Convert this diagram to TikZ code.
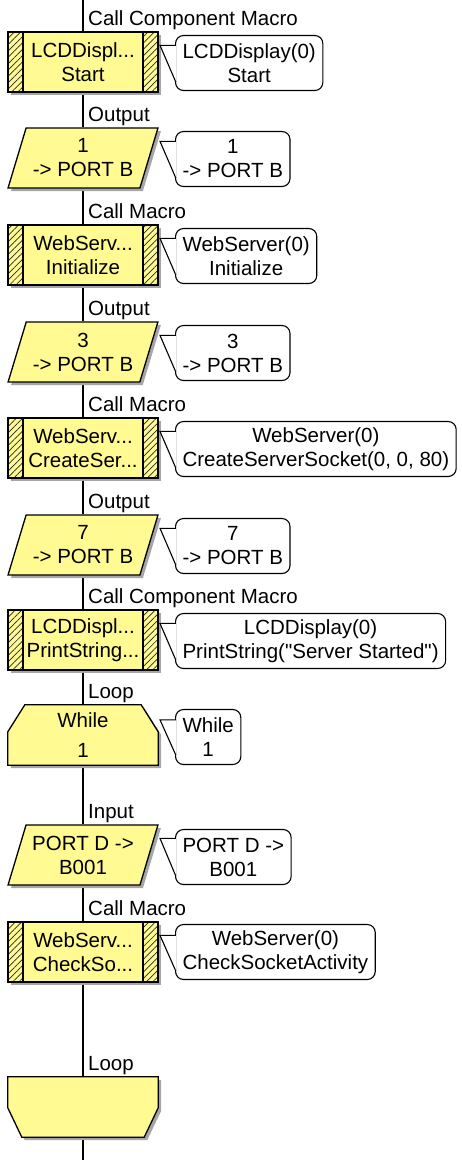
\documentclass[tikz,border=0pt]{standalone}
\usepackage{fontspec}
\setmainfont{Liberation Sans}[Ligatures=TeXOff]
\usetikzlibrary{shapes.geometric,shadows,patterns.meta,calc,backgrounds}

\definecolor{fcyellow}{RGB}{255,250,145}

\begin{document}
\begin{tikzpicture}[x=1pt, y=-1pt,
  font=\fontsize{20.5}{24}\selectfont,
  shadowed/.style={drop shadow={shadow xshift=3pt, shadow yshift=-3pt, fill=black!35, opacity=1}},
  hatch/.style={pattern={Lines[angle=45, distance=4.5pt, line width=0.7pt]}, pattern color=black!85},
  mac/.style={draw, line width=1.3pt, fill=fcyellow, minimum width=150pt, minimum height=60pt,
    inner sep=0pt, align=center, shadowed,
    path picture={
      \fill[hatch] (path picture bounding box.north west) rectangle ([xshift=15pt]path picture bounding box.south west);
      \fill[hatch] ([xshift=-15pt]path picture bounding box.north east) rectangle (path picture bounding box.south east);
      \draw[line width=1.3pt] ([xshift=15pt]path picture bounding box.north west) -- ([xshift=15pt]path picture bounding box.south west);
      \draw[line width=1.3pt] ([xshift=-15pt]path picture bounding box.north east) -- ([xshift=-15pt]path picture bounding box.south east);
    }},
  io/.style={trapezium, trapezium left angle=67.4, trapezium right angle=112.6, trapezium stretches=true,
    draw, line width=1.3pt, fill=fcyellow, minimum width=150pt, minimum height=60pt,
    inner sep=0pt, align=center, shadowed},
  loopbox/.style={minimum width=150pt, minimum height=60pt, inner sep=0pt, align=center},
  loopline/.style={draw, line width=1.3pt, fill=fcyellow, shadowed},
  bub/.style={draw, line width=1.1pt, rounded corners=8pt, fill=white, align=center,
    inner xsep=7pt, inner ysep=0pt, minimum height=55pt, anchor=west},
  tail/.style={draw, line width=1.1pt, fill=white},
  lbl/.style={anchor=base west, inner sep=0pt},
  spine/.style={line width=1.8pt}
]
\useasboundingbox (0,0) rectangle (462,1160);

% --- flowchart icons ---
\node[mac] (lcdstart) at (83,62) {LCDDispl...\\Start};
\node[io] (out1) at (83,158) {1\\-> PORT B};
\node[mac] (wsinit) at (83,255) {WebServ...\\Initialize};
\node[io] (out3) at (83,352) {3\\-> PORT B};
\node[mac] (wscreate) at (83,448) {WebServ...\\CreateSer...};
\node[io] (out7) at (83,545) {7\\-> PORT B};
\node[mac] (lcdprint) at (83,640) {LCDDispl...\\PrintString...};
\node[loopbox] (while) at (83,735) {While\\[6pt]1};
\node[io] (inD) at (83,855) {PORT D ->\\B001};
\node[mac] (wscheck) at (83,952) {WebServ...\\CheckSo...};
\node[loopbox] (loopend) at (83,1107) {};

\coordinate (top) at (83,0);
\coordinate (bottom) at (83,1160);

% --- icon titles ---
\node[lbl] (t1) at (88,25) {Call Component Macro};
\node[lbl] (t2) at (88,121) {Output};
\node[lbl] (t3) at (88,218) {Call Macro};
\node[lbl] (t4) at (88,315) {Output};
\node[lbl] (t5) at (88,411) {Call Macro};
\node[lbl] (t6) at (88,508) {Output};
\node[lbl] (t7) at (88,603) {Call Component Macro};
\node[lbl] (t8) at (88,698) {Loop};
\node[lbl] (t9) at (88,818) {Input};
\node[lbl] (t10) at (88,915) {Call Macro};
\node[lbl] (t11) at (88,1070) {Loop};

% --- comments ---
\node[bub] (cstart) at (175,63) {LCDDisplay(0)\\Start};
\node[bub] (cout1) at (175,159) {1\\-> PORT B};
\node[bub] (cinit) at (175,256) {WebServer(0)\\Initialize};
\node[bub] (cout3) at (175,353) {3\\-> PORT B};
\node[bub] (ccreate) at (175,449) {WebServer(0)\\CreateServerSocket(0, 0, 80)};
\node[bub] (cout7) at (175,546) {7\\-> PORT B};
\node[bub] (cprint) at (175,641) {LCDDisplay(0)\\PrintString("Server Started")};
\node[bub] (cwhile) at (175,737) {While\\1};
\node[bub] (cinD) at (175,857) {PORT D ->\\B001};
\node[bub] (ccheck) at (175,952) {WebServer(0)\\CheckSocketActivity};

% --- comment tails ---
\draw[tail] ($(cstart.west |- lcdstart.north)+(0.8,14)$) -- ($(lcdstart.north)+(77,14)$) -- ($(cstart.south west)+(0.8,-9)$);
\draw[tail] ($(cout1.west |- out1.north)+(0.8,14)$) -- ($(out1.north)+(77,14)$) -- ($(cout1.south west)+(0.8,-9)$);
\draw[tail] ($(cinit.west |- wsinit.north)+(0.8,14)$) -- ($(wsinit.north)+(77,14)$) -- ($(cinit.south west)+(0.8,-9)$);
\draw[tail] ($(cout3.west |- out3.north)+(0.8,14)$) -- ($(out3.north)+(77,14)$) -- ($(cout3.south west)+(0.8,-9)$);
\draw[tail] ($(ccreate.west |- wscreate.north)+(0.8,14)$) -- ($(wscreate.north)+(77,14)$) -- ($(ccreate.south west)+(0.8,-9)$);
\draw[tail] ($(cout7.west |- out7.north)+(0.8,14)$) -- ($(out7.north)+(77,14)$) -- ($(cout7.south west)+(0.8,-9)$);
\draw[tail] ($(cprint.west |- lcdprint.north)+(0.8,14)$) -- ($(lcdprint.north)+(77,14)$) -- ($(cprint.south west)+(0.8,-9)$);
\draw[tail] ($(cwhile.west |- while.north)+(0.8,15)$) -- ($(while.north)+(77,15)$) -- ($(cwhile.south west)+(0.8,-10)$);
\draw[tail] ($(cinD.west |- inD.north)+(0.8,14)$) -- ($(inD.north)+(77,14)$) -- ($(cinD.south west)+(0.8,-9)$);
\draw[tail] ($(ccheck.west |- wscheck.north)+(0.8,14)$) -- ($(wscheck.north)+(77,14)$) -- ($(ccheck.south west)+(0.8,-9)$);

\begin{scope}[on background layer]
% --- flow line ---
\draw[spine] (top) -- (lcdstart);
\draw[spine] (lcdstart) -- (out1);
\draw[spine] (out1) -- (wsinit);
\draw[spine] (wsinit) -- (out3);
\draw[spine] (out3) -- (wscreate);
\draw[spine] (wscreate) -- (out7);
\draw[spine] (out7) -- (lcdprint);
\draw[spine] (lcdprint) -- (while);
\draw[spine] (while) -- (inD);
\draw[spine] (inD) -- (wscheck);
\draw[spine] (wscheck) -- (loopend);
\draw[spine] (loopend) -- (bottom);

% --- loop start / loop end outlines ---
\path[loopline] ($(while.north west)+(17,0)$) -- ($(while.north east)+(-17,0)$) -- ($(while.north east)+(0,27)$)
  -- (while.south east) -- (while.south west) -- ($(while.north west)+(0,27)$) -- cycle;
\path[loopline] (loopend.north west) -- (loopend.north east) -- ($(loopend.north east)+(0,31)$)
  -- ($(loopend.south east)+(-14,0)$) -- ($(loopend.south west)+(14,0)$) -- ($(loopend.north west)+(0,31)$) -- cycle;
\end{scope}

\end{tikzpicture}
\end{document}
